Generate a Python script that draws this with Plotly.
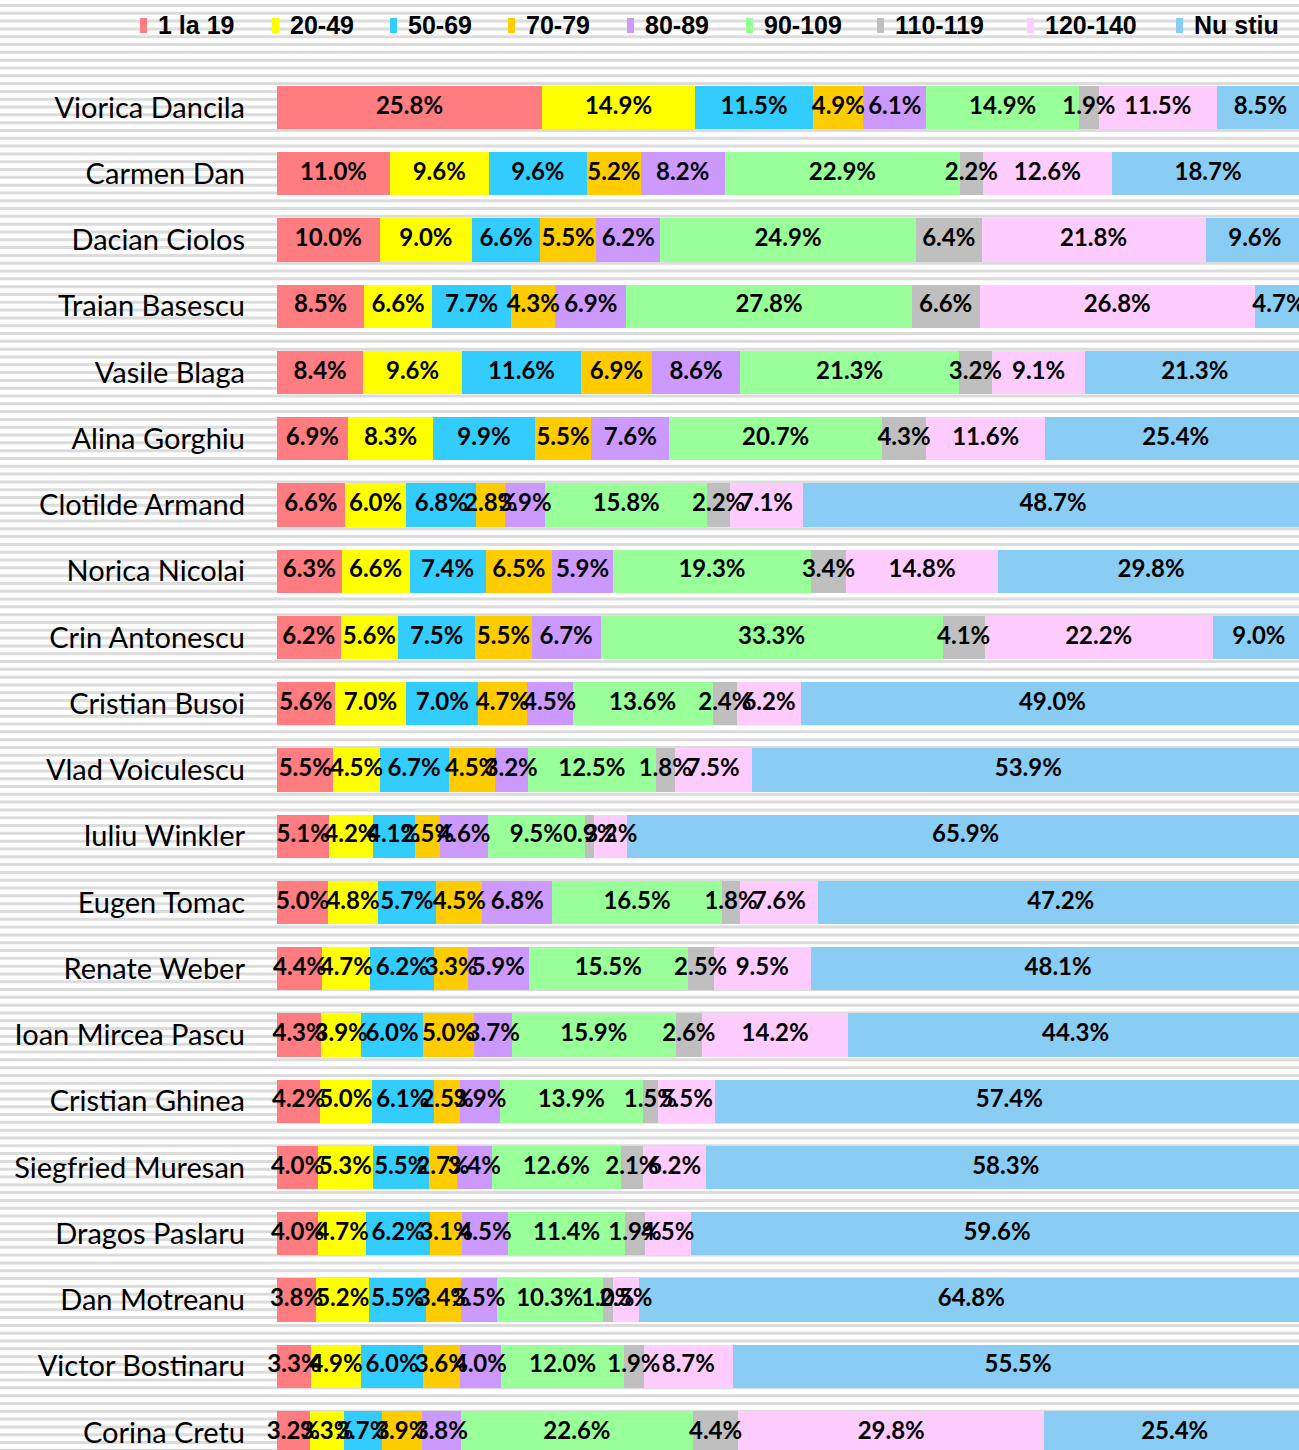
import numpy as np
import plotly.graph_objects as go

# categories (top to bottom)
names = ['Viorica Dancila', 'Carmen Dan', 'Dacian Ciolos', 'Traian Basescu',
         'Vasile Blaga', 'Alina Gorghiu', 'Clotilde Armand', 'Norica Nicolai',
         'Crin Antonescu', 'Cristian Busoi', 'Vlad Voiculescu', 'Iuliu Winkler',
         'Eugen Tomac', 'Renate Weber', 'Ioan Mircea Pascu', 'Cristian Ghinea',
         'Siegfried Muresan', 'Dragos Paslaru', 'Dan Motreanu', 'Victor Bostinaru',
         'Corina Cretu']

groups = ['1 la 19', '20-49', '50-69', '70-79', '80-89', '90-109',
          '110-119', '120-140', 'Nu stiu']

g_1_19 = [25.8, 11.0, 10.0, 8.5, 8.4, 6.9, 6.6, 6.3, 6.2, 5.6, 5.5, 5.1, 5.0, 4.4, 4.3, 4.2, 4.0, 4.0, 3.8, 3.3, 3.2]
g_20_49 = [14.9, 9.6, 9.0, 6.6, 9.6, 8.3, 6.0, 6.6, 5.6, 7.0, 4.5, 4.2, 4.8, 4.7, 3.9, 5.0, 5.3, 4.7, 5.2, 4.9, 3.3]
g_50_69 = [11.5, 9.6, 6.6, 7.7, 11.6, 9.9, 6.8, 7.4, 7.5, 7.0, 6.7, 4.1, 5.7, 6.2, 6.0, 6.1, 5.5, 6.2, 5.5, 6.0, 3.7]
g_70_79 = [4.9, 5.2, 5.5, 4.3, 6.9, 5.5, 2.8, 6.5, 5.5, 4.7, 4.5, 2.5, 4.5, 3.3, 5.0, 2.5, 2.7, 3.1, 3.4, 3.6, 3.9]
g_80_89 = [6.1, 8.2, 6.2, 6.9, 8.6, 7.6, 3.9, 5.9, 6.7, 4.5, 3.2, 4.6, 6.8, 5.9, 3.7, 3.9, 3.4, 4.5, 3.5, 4.0, 3.8]
g_90_109 = [14.9, 22.9, 24.9, 27.8, 21.3, 20.7, 15.8, 19.3, 33.3, 13.6, 12.5, 9.5, 16.5, 15.5, 15.9, 13.9, 12.6, 11.4, 10.3, 12.0, 22.6]
g_110_119 = [1.9, 2.2, 6.4, 6.6, 3.2, 4.3, 2.2, 3.4, 4.1, 2.4, 1.8, 0.9, 1.8, 2.5, 2.6, 1.5, 2.1, 1.9, 1.0, 1.9, 4.4]
g_120_140 = [11.5, 12.6, 21.8, 26.8, 9.1, 11.6, 7.1, 14.8, 22.2, 6.2, 7.5, 3.2, 7.6, 9.5, 14.2, 5.5, 6.2, 4.5, 2.5, 8.7, 29.8]
g_nu_stiu = [8.5, 18.7, 9.6, 4.7, 21.3, 25.4, 48.7, 29.8, 9.0, 49.0, 53.9, 65.9, 47.2, 48.1, 44.3, 57.4, 58.3, 59.6, 64.8, 55.5, 25.4]

series = [g_1_19, g_20_49, g_50_69, g_70_79, g_80_89, g_90_109, g_110_119, g_120_140, g_nu_stiu]
colors = ['#FF7C80', '#FFFF00', '#33CCFF', '#FFCC00', '#CC99FF',
          '#99FF99', '#BFBFBF', '#FFCCFF', '#8ACDF4']

W, H = 1299, 1450
L, T = 277, 60
pw, ph = W - L, H - T

fig = go.Figure()
for grp, vals, col in zip(groups, series, colors):
    fig.add_trace(go.Bar(
        y=names, x=vals, name=grp, orientation='h',
        marker=dict(color=col, line_width=0), hoverinfo='x+name',
    ))

# value labels on top of every segment (drawn above all bars, may overlap)
base = np.zeros(len(names))
for vals in series:
    v = np.array(vals)
    fig.add_trace(go.Scatter(
        x=base + v / 2, y=names, mode='text', text=[f'{x:.1f}%' for x in v],
        textposition='middle center', cliponaxis=False, showlegend=False,
        hoverinfo='skip',
        textfont=dict(family='Lato', size=24, color='black', weight='bold'),
    ))
    base = base + v

# striped background
shapes = []
y = 4.0
while y < H:
    shapes.append(dict(type='rect', xref='paper', yref='paper',
                       x0=-L / pw, x1=1, y0=1 - (y + 3 - T) / ph, y1=1 - (y - T) / ph,
                       fillcolor='#DCDCDC', line_width=0, layer='below'))
    y += 7.81

# legend row drawn by hand (small colour tick + bold label)
legend_left = [140, 272, 390, 508, 627, 746, 877, 1027, 1176]
annotations = []
for grp, col, px in zip(groups, colors, legend_left):
    shapes.append(dict(type='rect', xref='paper', yref='paper',
                       x0=(px - L) / pw, x1=(px + 7 - L) / pw,
                       y0=1 + (T - 33) / ph, y1=1 + (T - 18) / ph,
                       fillcolor=col, line_width=0))
    annotations.append(dict(xref='paper', yref='paper', x=(px + 16 - L) / pw,
                            y=1 + (T - 25) / ph, xanchor='left', yanchor='middle',
                            text=grp, showarrow=False,
                            font=dict(family='Liberation Sans, Arial', size=25,
                                      color='black', weight='bold')))

fig.update_layout(
    width=W, height=H,
    barmode='stack', bargap=0.35,
    margin=dict(l=L, r=0, t=T, b=0),
    paper_bgcolor='white', plot_bgcolor='rgba(0,0,0,0)',
    shapes=shapes, annotations=annotations,
    showlegend=False,
)
fig.update_xaxes(range=[0, 99.5], visible=False)
fig.update_yaxes(range=[20.264, -0.717], showgrid=False, zeroline=False,
                 ticks='', ticklabelstandoff=31,
                 tickfont=dict(family='Lato', size=29, color='black'))
fig.write_html('out.html', config={'displayModeBar': False},
               post_script="document.body.style.margin='0';")
